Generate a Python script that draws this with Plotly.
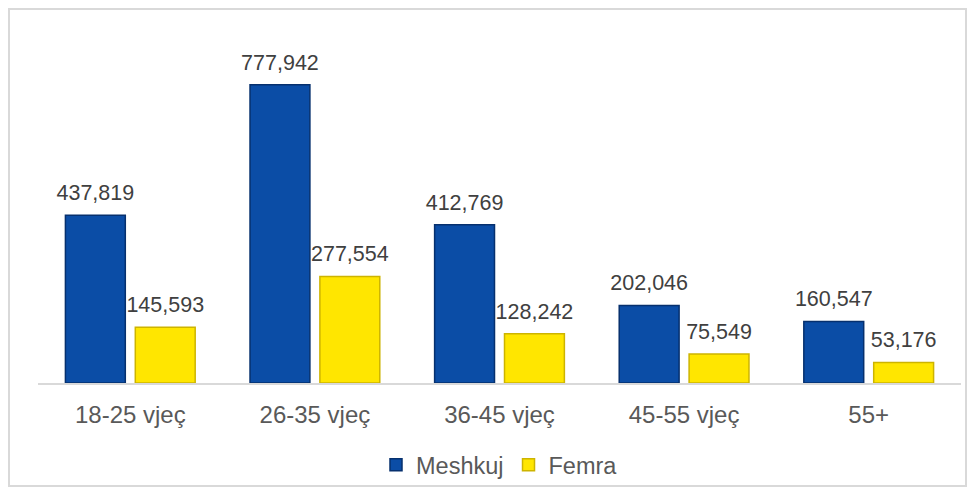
import plotly.graph_objects as go

categories = ["18-25 vjeç", "26-35 vjeç", "36-45 vjeç", "45-55 vjeç", "55+"]
meshkuj = [437819, 777942, 412769, 202046, 160547]
femra = [145593, 277554, 128242, 75549, 53176]

font_family = "Liberation Sans, Arial, sans-serif"

# figure placed at page offset (8, 8) by the default body margin
W, H = 959, 479
ML, MR, MT, MB = 30, 6, 30, 104
PW, PH = W - ML - MR, H - MT - MB
GAP, GROUPGAP = 0.243, 0.143

series = [
    ("Meshkuj", meshkuj, "#0B4DA6", "#06306E"),
    ("Femra", femra, "#FFE600", "#CDB400"),
]

fig = go.Figure()
for name, vals, col, edge in series:
    fig.add_trace(go.Bar(
        name=name, x=categories, y=vals, offsetgroup=name,
        marker=dict(color=col, line=dict(color=edge, width=1.5)),
        hoverinfo="x+y",
    ))
for name, vals, col, edge in series:
    fig.add_trace(go.Scatter(
        x=categories, y=vals, offsetgroup=name, mode="markers+text",
        marker=dict(size=14, opacity=0), showlegend=False,
        text=[f"{v:,}" for v in vals], textposition="top center",
        textfont=dict(size=21.5, color="#404040", family=font_family),
        cliponaxis=False, hoverinfo="skip",
    ))

fig.update_layout(
    width=W, height=H,
    margin=dict(l=ML, r=MR, t=MT, b=MB, autoexpand=False),
    paper_bgcolor="white", plot_bgcolor="white",
    barmode="group", bargap=GAP, bargroupgap=GROUPGAP,
    scattermode="group", scattergap=GAP,
    font=dict(family=font_family, size=20, color="#595959"),
    showlegend=True,
    legend=dict(orientation="h", x=0.5, xanchor="center",
                yref="container", y=0.046, yanchor="middle",
                bgcolor="rgba(0,0,0,0)",
                font=dict(size=23.5, color="#595959"), itemwidth=30),
    xaxis=dict(showline=True, linecolor="#D9D9D9", linewidth=2, ticks="outside",
               ticklen=9, tickcolor="rgba(0,0,0,0)",
               tickfont=dict(size=24, color="#595959"), showgrid=False, zeroline=False),
    yaxis=dict(range=[0, 900000], visible=False, showgrid=False, zeroline=False),
    shapes=[dict(type="rect", xref="paper", yref="paper",
                 x0=-(ML - 1) / PW, x1=1 + (MR - 1) / PW,
                 y0=-(MB - 1) / PH, y1=1 + (MT - 1) / PH,
                 line=dict(color="#D9D9D9", width=2), fillcolor="rgba(0,0,0,0)", layer="below")],
)

fig.write_html("out.html")
